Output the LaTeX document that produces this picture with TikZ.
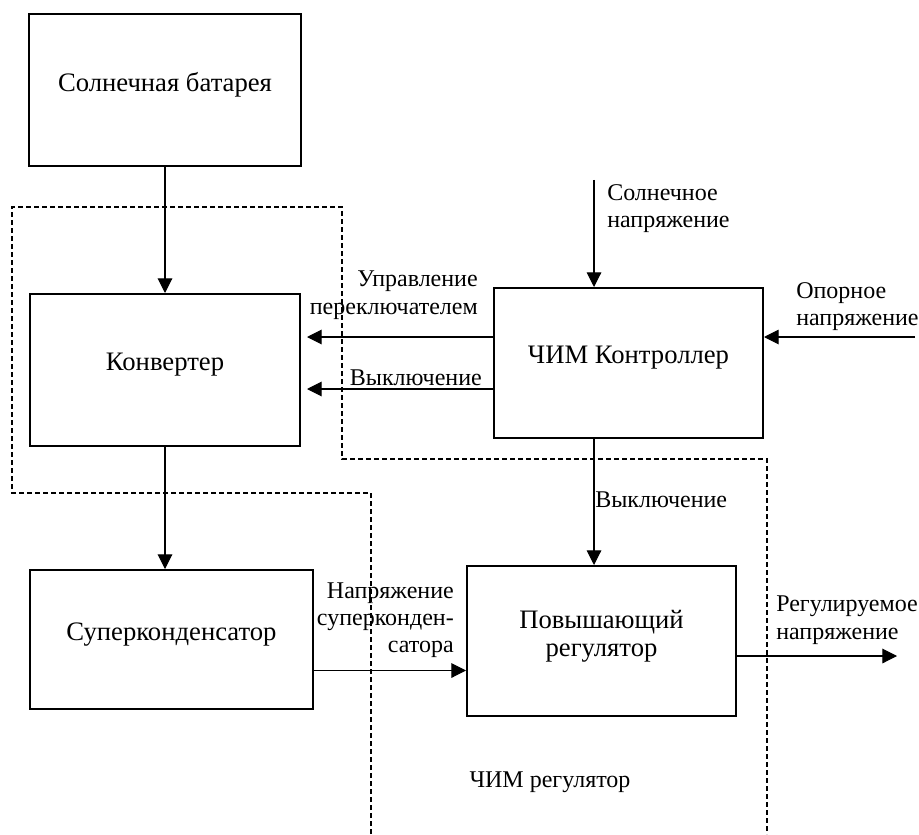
\documentclass[tikz,border=0pt]{standalone}
\usepackage{fontspec}
\setmainfont{Liberation Serif}
\usetikzlibrary{arrows.meta}

\begin{document}
\begin{tikzpicture}[x=0.75pt, y=-0.75pt,
    block/.style={draw, line width=1.5pt, align=center, inner sep=0pt,
      text depth=12pt, font=\fontsize{20}{21}\selectfont},
    sig/.style={-{Triangle[length=11pt,width=11pt]}, line width=0.8pt},
    lbl/.style={inner sep=0pt, font=\fontsize{18}{20.5}\selectfont},
    zone/.style={dash pattern=on 3.75pt off 2.25pt, line width=0.8pt}]
  \useasboundingbox (0,0) rectangle (919,834);

  % PWM regulator zone
  \draw[zone] (371,834) -- (371,493) -- (12,493) -- (12,207) -- (342,207)
    -- (342,459) -- (767,459) -- (767,834);
  \node[lbl, anchor=base] (zonelbl) at (550,787) {ЧИМ регулятор};

  % blocks
  \node[block, minimum width=204pt, minimum height=114pt] (solar) at (165,90) {Солнечная батарея};
  \node[block, minimum width=202.5pt, minimum height=114pt] (conv) at (165,370) {Конвертер};
  \node[block, minimum width=212.25pt, minimum height=104.25pt] (scap) at (171.5,639.5) {Суперконденсатор};
  \node[block, minimum width=201.75pt, minimum height=112.5pt] (ctrl) at (628.5,363) {ЧИМ Контроллер};
  \node[block, minimum width=201.75pt, minimum height=112.5pt] (boost) at (601.5,641) {Повышающий\\регулятор};

  % free ends
  \coordinate (sunin) at (594,180);
  \coordinate (refin) at (915,337);
  \coordinate (vout) at (897,656);

  % connectors
  \draw[sig] (solar.south) -- (conv.north);
  \draw[sig] (conv.south) -- (conv.south |- scap.north);
  \draw[sig] (sunin) -- (sunin |- ctrl.north);
  \draw[sig] (refin) -- (refin -| ctrl.east);
  \draw[sig, shorten >=4.5pt] ([yshift=19.5pt]ctrl.west) -- ([yshift=19.5pt]ctrl.west -| conv.east);
  \draw[sig, shorten >=4.5pt] ([yshift=-19.5pt]ctrl.west) -- ([yshift=-19.5pt]ctrl.west -| conv.east);
  \draw[sig] (sunin |- ctrl.south) -- (sunin |- boost.north);
  \draw[sig] ([yshift=-23.25pt]scap.east) -- ([yshift=-23.25pt]scap.east -| boost.west);
  \draw[sig] (vout -| boost.east) -- (vout);

  % labels
  \node[lbl, align=right, anchor=east] (swlbl) at (478,295.3) {Управление\\переключателем};
  \node[lbl, anchor=base east] (offlbl) at (482,385) {Выключение};
  \node[lbl, align=left, anchor=west] (sunlbl) at (607,208.8) {Солнечное\\напряжение};
  \node[lbl, align=left, anchor=west] (reflbl) at (796,306.3) {Опорное\\напряжение};
  \node[lbl, anchor=base west] (off2lbl) at (595,507) {Выключение};
  \node[lbl, align=right, anchor=east] (caplbl) at (454,620.3) {Напряжение\\суперконден-\\сатора};
  \node[lbl, align=left, anchor=west] (outlbl) at (776,620.3) {Регулируемое\\напряжение};
\end{tikzpicture}
\end{document}
